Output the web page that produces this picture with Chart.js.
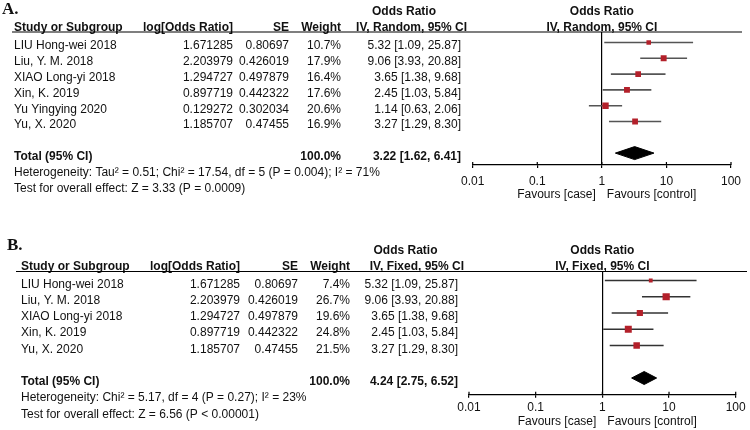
<!DOCTYPE html>
<html>
<head>
<meta charset="utf-8">
<script src="https://cdn.jsdelivr.net/npm/chart.js@4.4.1/dist/chart.umd.min.js"></script>
<style>
  html, body { margin: 0; padding: 0; background: #fff; }
  #wrap { position: relative; width: 750px; height: 430px; }
  .panel { position: absolute; left: 0; width: 750px; height: 215px; }
</style>
</head>
<body>
<div id="wrap">
  <div class="panel" style="top:0"><canvas id="chartA" width="750" height="215"></canvas></div>
  <div class="panel" style="top:215px"><canvas id="chartB" width="750" height="215"></canvas></div>
</div>
<script>
/* ===== Panel A: random effects ===== */
const studiesA = ['LIU Hong-wei 2018', 'Liu, Y. M. 2018', 'XIAO Long-yi 2018', 'Xin, K. 2019', 'Yu Yingying 2020', 'Yu, X. 2020'];
const logOrA = [1.671285, 2.203979, 1.294727, 0.897719, 0.129272, 1.185707];
const seA = [0.80697, 0.426019, 0.497879, 0.442322, 0.302034, 0.47455];
const weightA = [10.7, 17.9, 16.4, 17.6, 20.6, 16.9];
const orA = [5.32, 9.06, 3.65, 2.45, 1.14, 3.27];
const loA = [1.09, 3.93, 1.38, 1.03, 0.63, 1.29];
const hiA = [25.87, 20.88, 9.68, 5.84, 2.06, 8.30];
const totalA = [3.22, 1.62, 6.41]; // estimate, lower, upper
const totalWeightA = 100.0;
const hetA = 'Heterogeneity: Tau² = 0.51; Chi² = 17.54, df = 5 (P = 0.004); I² = 71%';
const testA = 'Test for overall effect: Z = 3.33 (P = 0.0009)';

/* ===== Panel B: fixed effect ===== */
const studiesB = ['LIU Hong-wei 2018', 'Liu, Y. M. 2018', 'XIAO Long-yi 2018', 'Xin, K. 2019', 'Yu, X. 2020'];
const logOrB = [1.671285, 2.203979, 1.294727, 0.897719, 1.185707];
const seB = [0.80697, 0.426019, 0.497879, 0.442322, 0.47455];
const weightB = [7.4, 26.7, 19.6, 24.8, 21.5];
const orB = [5.32, 9.06, 3.65, 2.45, 3.27];
const loB = [1.09, 3.93, 1.38, 1.03, 1.29];
const hiB = [25.87, 20.88, 9.68, 5.84, 8.30];
const totalB = [4.24, 2.75, 6.52];
const totalWeightB = 100.0;
const hetB = 'Heterogeneity: Chi² = 5.17, df = 4 (P = 0.27); I² = 23%';
const testB = 'Test for overall effect: Z = 6.56 (P < 0.00001)';

/* ===== axis ===== */
const tickValues = [0.01, 0.1, 1, 10, 100];
const tickLabels = ['0.01', '0.1', '1', '10', '100'];

const FONT = '"Liberation Sans", Arial, sans-serif';

// layout of each panel (pixels inside its own canvas)
const layoutA = {
  letter: 'A.', letterX: 2, letterY: 10,
  top: 32, bottom: 165, left: 472.7, right: 731,
  row0: 42.5, step: 15.8, textShift: 3.5,
  lineX1: 12, lineX2: 742,
  cStudy: 14, cLog: 233, cSE: 289, cW: 341, cOR: 461, cORhead: 467, orHeadMid: 404,
  tickPad: 6, favY: 195, ciColor: '#555',
  method: 'IV, Random, 95% CI'
};
const layoutB = {
  letter: 'B.', letterX: 7, letterY: 31,
  top: 56.5, bottom: 179.7, left: 469, right: 735.7,
  row0: 65.5, step: 16.25, textShift: 3.8,
  lineX1: 16, lineX2: 747,
  cStudy: 21, cLog: 240, cSE: 298, cW: 350, cOR: 458, cORhead: 464, orHeadMid: 405.5,
  tickPad: 3, favY: 207, ciColor: '#333',
  method: 'IV, Fixed, 95% CI'
};

const fmtCI = (e, l, h) => e.toFixed(2) + ' [' + l.toFixed(2) + ', ' + h.toFixed(2) + ']';

function tablePlugin(d, L) {
  return {
    id: 'forestTable',
    afterDraw(chart) {
      const ctx = chart.ctx;
      const x = chart.scales.x, y = chart.scales.y;
      const area = chart.chartArea;
      const n = d.studies.length;
      const rowY = i => y.getPixelForValue(i) + L.textShift;
      const x1 = x.getPixelForValue(1);
      ctx.save();
      ctx.fillStyle = '#111';

      // panel letter
      ctx.font = 'bold 17px "Liberation Serif", "Times New Roman", serif';
      ctx.textAlign = 'left';
      ctx.textBaseline = 'middle';
      ctx.fillText(L.letter, L.letterX, L.letterY);

      // header rows
      const hb2 = area.top - 1.5;
      const hb1 = hb2 - 15.7;
      ctx.font = 'bold 12px ' + FONT;
      ctx.textBaseline = 'alphabetic';
      ctx.textAlign = 'center';
      ctx.fillText('Odds Ratio', L.orHeadMid, hb1);
      ctx.fillText('Odds Ratio', x1, hb1);
      ctx.fillText(L.method, x1, hb2);
      ctx.textAlign = 'left';
      ctx.fillText('Study or Subgroup', L.cStudy, hb2);
      ctx.textAlign = 'right';
      ctx.fillText('log[Odds Ratio]', L.cLog, hb2);
      ctx.fillText('SE', L.cSE, hb2);
      ctx.fillText('Weight', L.cW, hb2);
      ctx.fillText(L.method, L.cORhead, hb2);

      // header rule
      ctx.strokeStyle = '#000';
      ctx.lineWidth = 1.2;
      ctx.beginPath();
      ctx.moveTo(L.lineX1, area.top);
      ctx.lineTo(L.lineX2, area.top);
      ctx.stroke();

      // study rows
      ctx.font = '12px ' + FONT;
      ctx.textBaseline = 'middle';
      for (let i = 0; i < n; i++) {
        const yy = rowY(i);
        ctx.textAlign = 'left';
        ctx.fillText(d.studies[i], L.cStudy, yy);
        ctx.textAlign = 'right';
        ctx.fillText(String(d.logOr[i]), L.cLog, yy);
        ctx.fillText(String(d.se[i]), L.cSE, yy);
        ctx.fillText(d.weight[i].toFixed(1) + '%', L.cW, yy);
        ctx.fillText(fmtCI(d.or[i], d.lo[i], d.hi[i]), L.cOR, yy);
      }

      // total row
      const ty = rowY(n + 1);
      ctx.font = 'bold 12px ' + FONT;
      ctx.textAlign = 'left';
      ctx.fillText('Total (95% CI)', L.cStudy, ty);
      ctx.textAlign = 'right';
      ctx.fillText(d.totalWeight.toFixed(1) + '%', L.cW, ty);
      ctx.fillText(fmtCI(d.total[0], d.total[1], d.total[2]), L.cOR, ty);

      // heterogeneity & overall effect
      ctx.font = '12px ' + FONT;
      ctx.textAlign = 'left';
      ctx.fillText(d.het, L.cStudy, rowY(n + 2));
      ctx.fillText(d.test, L.cStudy, rowY(n + 3));

      // favours labels
      ctx.textAlign = 'right';
      ctx.fillText('Favours [case]', x1 - 6, L.favY);
      ctx.textAlign = 'left';
      ctx.fillText('Favours [control]', x1 + 5, L.favY);

      // upper half of tick marks
      ctx.beginPath();
      x.ticks.forEach(t => {
        const px = x.getPixelForValue(t.value);
        ctx.moveTo(px, area.bottom);
        ctx.lineTo(px, area.bottom - 3);
      });
      ctx.stroke();
      ctx.restore();
    }
  };
}

function buildChart(id, d, L) {
  const n = d.studies.length;
  const H = 215;
  const datasets = [];

  // study squares, side grows with sqrt(weight)
  datasets.push({
    data: d.or.map((v, i) => ({ x: v, y: i })),
    pointStyle: 'rect',
    pointRadius: d.weight.map(w => 1.4 * Math.sqrt(w) / Math.SQRT2),
    backgroundColor: '#b3202a',
    borderColor: '#b3202a',
    borderWidth: 0,
    order: 0
  });

  // pooled diamond
  const t = n + 1, hh = 6.5 / L.step;
  datasets.push({
    data: [
      { x: d.total[1], y: t },
      { x: d.total[0], y: t - hh },
      { x: d.total[2], y: t },
      { x: d.total[0], y: t + hh },
      { x: d.total[1], y: t }
    ],
    showLine: true,
    fill: 'shape',
    tension: 0,
    backgroundColor: '#000',
    borderColor: '#000',
    borderWidth: 1,
    pointRadius: 0,
    order: 1
  });

  // confidence intervals
  for (let i = 0; i < n; i++) {
    datasets.push({
      data: [{ x: d.lo[i], y: i }, { x: d.hi[i], y: i }],
      showLine: true,
      borderColor: L.ciColor,
      borderWidth: 1.6,
      pointRadius: 0,
      order: 2
    });
  }

  return new Chart(document.getElementById(id), {
    type: 'scatter',
    data: { datasets },
    options: {
      responsive: false,
      animation: false,
      events: [],
      layout: { padding: { left: L.left, right: 750 - L.right, top: L.top, bottom: 0 } },
      plugins: { legend: { display: false }, tooltip: { enabled: false } },
      scales: {
        x: {
          type: 'logarithmic',
          min: 0.01,
          max: 100,
          afterBuildTicks: s => { s.ticks = tickValues.map(v => ({ value: v })); },
          afterFit: s => { s.height = H - L.bottom; },
          ticks: {
            callback: (v, i) => tickLabels[i],
            color: '#111',
            font: { family: FONT, size: 12 },
            padding: L.tickPad,
            autoSkip: false,
            maxRotation: 0
          },
          grid: {
            drawOnChartArea: true,
            color: c => (c.tick && c.tick.value === 1) ? '#000' : 'rgba(0,0,0,0)',
            lineWidth: 1.2,
            tickLength: 3,
            tickColor: '#000',
            tickWidth: 1.2
          },
          border: { display: true, color: '#000', width: 1.2 }
        },
        y: {
          type: 'linear',
          display: false,
          reverse: true,
          min: (L.top - L.row0) / L.step,
          max: (L.bottom - L.row0) / L.step
        }
      }
    },
    plugins: [tablePlugin(d, L)]
  });
}

buildChart('chartA', {
  studies: studiesA, logOr: logOrA, se: seA, weight: weightA, or: orA, lo: loA, hi: hiA,
  total: totalA, totalWeight: totalWeightA, het: hetA, test: testA
}, layoutA);

buildChart('chartB', {
  studies: studiesB, logOr: logOrB, se: seB, weight: weightB, or: orB, lo: loB, hi: hiB,
  total: totalB, totalWeight: totalWeightB, het: hetB, test: testB
}, layoutB);
</script>
</body>
</html>
